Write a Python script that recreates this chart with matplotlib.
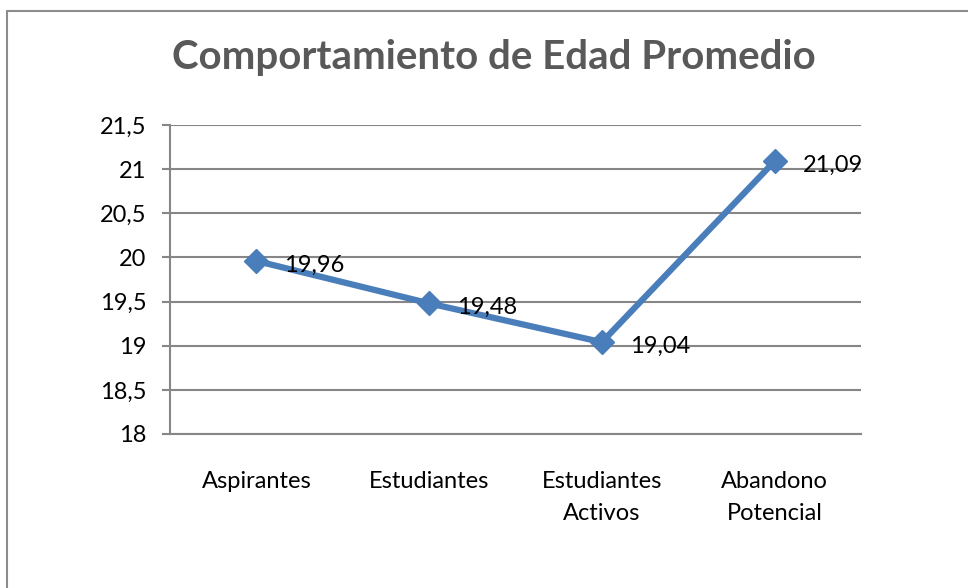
import matplotlib
matplotlib.use("Agg")
from matplotlib import pyplot as plt
from matplotlib.patches import Rectangle

# ----------------- Data -----------------
categories = ["Aspirantes", "Estudiantes", "Estudiantes\nActivos", "Abandono\nPotencial"]
edad_promedio = [19.96, 19.48, 19.04, 21.09]
y_ticks = [18, 18.5, 19, 19.5, 20, 20.5, 21, 21.5]
y_tick_labels = ["18", "18,5", "19", "19,5", "20", "20,5", "21", "21,5"]

plt.rcParams['font.family'] = ['Lato', 'DejaVu Sans']

W, H = 968, 588
fig = plt.figure(figsize=(W / 100, H / 100), dpi=100)
ax = fig.add_axes([170 / W, 1 - 434 / H, (861 - 170) / W, (434 - 125) / H])

# outer chart frame (Excel style)
fig.patches.append(Rectangle((7 / W, -0.1), 1.2, 1 - 11 / H + 0.1, transform=fig.transFigure,
                             fill=False, edgecolor="#8c8c8c", linewidth=1.5))

x = list(range(len(categories)))
ax.plot(x, edad_promedio, color="#4A7EBB", linewidth=4.5, marker="D", markersize=12,
        markeredgecolor="#4A7EBB", zorder=3, clip_on=False)

for xi, v in zip(x, edad_promedio):
    ax.annotate(f"{v:.2f}".replace(".", ","), (xi, v), xytext=(20, -3),
                textcoords="offset points", ha="left", va="center", fontsize=17, color="black")

ax.set_xlim(-0.5, len(categories) - 0.5)
ax.set_ylim(18, 21.5)
ax.set_yticks(y_ticks)
ax.set_yticklabels(y_tick_labels, fontsize=17)
ax.set_xticks(x)
ax.set_xticklabels(categories, fontsize=17, linespacing=1.6)
ax.tick_params(axis="x", length=0, pad=27)
ax.tick_params(axis="y", length=6, color="#868686", width=1.5, pad=11)

ax.grid(axis="y", color="#868686", linewidth=1.5)
ax.set_axisbelow(True)
for side in ["top", "right"]:
    ax.spines[side].set_visible(False)
for side in ["left", "bottom"]:
    ax.spines[side].set_color("#868686")
    ax.spines[side].set_linewidth(1.5)

fig.text(494 / W, 1 - 57 / H, "Comportamiento de Edad Promedio", ha="center", va="center",
         fontsize=29, fontweight="bold", color="#595959")

fig.savefig("out.png", dpi=100)
